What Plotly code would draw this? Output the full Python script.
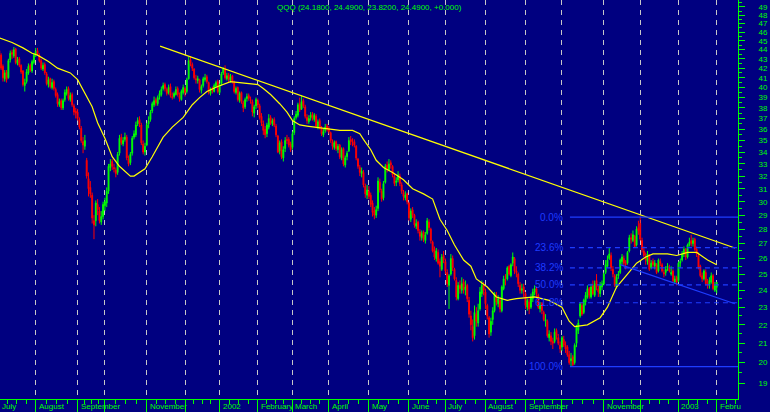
import math
import plotly.graph_objects as go

# ---------------- data (trading-day index 0 = first bar, 2 Jul 2001) ----------------
month_start_idx = [0, 21, 44, 59, 82, 103, 122, 143, 162, 182, 204, 226, 246, 268, 290, 310, 333, 353, 374, 395]
month_labels = ["July", "August", "September", "", "November", "", "2002", "February", "March", "April",
                "May", "June", "July", "August", "September", "", "November", "", "2003", "Febru"]

opens = [
    45.2, 43.9, 43.4, 42.2, 40.9, 41.6, 41.0, 42.9, 43.7, 43.3, 44.1, 42.5, 43.0, 42.3, 41.7, 40.2, 40.6, 41.5, 42.3, 41.7, 42.6,
    43.5, 43.9, 43.4, 42.8, 41.9, 42.4, 41.4, 40.3, 40.9, 40.0, 40.6, 39.8, 39.3, 38.3, 38.7, 38.0, 38.8, 39.4, 39.9, 38.8, 39.3, 38.2, 37.7,
    37.6, 36.9, 36.1, 34.9, 34.5, 33.3, 31.8, 31.1, 30.5, 28.6, 28.6, 29.8, 29.3, 28.5, 28.9,
    29.7, 29.9, 30.8, 32.7, 33.2, 32.7, 32.5, 32.3, 33.9, 35.3, 34.7, 35.1, 35.3, 33.4, 33.1, 33.9, 35.3, 35.5, 36.5, 36.9, 36.4, 34.7, 34.0,
    34.6, 36.5, 36.9, 37.7, 38.3, 38.8, 38.4, 39.1, 39.3, 39.9, 40.3, 39.8, 39.5, 40.1, 39.1, 39.1, 39.3, 39.9, 39.2, 38.8, 39.5,
    39.9, 39.6, 40.9, 42.9, 42.4, 41.9, 40.9, 40.7, 40.8, 39.7, 40.2, 40.8, 41.1, 40.5, 39.4, 39.9, 39.6, 40.1, 40.6,
    39.5, 40.4, 41.5, 41.9, 40.9, 41.3, 40.7, 41.2, 40.5, 39.5, 40.0, 38.7, 39.5, 38.5, 38.1, 38.9, 39.2, 38.8, 38.6, 37.5, 38.2,
    38.7, 38.2, 37.2, 36.5, 36.0, 35.6, 36.2, 37.1, 36.5, 36.9, 36.3, 35.4, 34.1, 34.9, 33.5, 34.3, 35.1, 35.1, 34.7,
    34.4, 35.7, 37.1, 37.3, 38.4, 37.9, 38.7, 38.1, 37.1, 36.7, 37.1, 37.4, 36.9, 37.2, 36.2, 36.8, 36.1, 35.5, 35.9, 36.3,
    36.1, 35.7, 34.9, 34.4, 34.9, 34.2, 34.6, 33.5, 34.3, 32.9, 33.6, 34.1, 35.1, 34.8, 34.9, 34.5, 33.4, 32.7, 32.2, 32.3, 31.2, 30.5,
    30.8, 30.5, 29.9, 29.3, 29.0, 29.5, 31.5, 30.8, 30.3, 31.5, 32.9, 32.5, 33.1, 32.8, 32.0, 31.5, 31.7, 32.0, 31.3, 30.7, 30.3, 30.6,
    29.9, 28.7, 29.4, 29.0, 28.2, 28.5, 27.8, 27.4, 27.8, 27.2, 27.7, 28.5, 28.0, 27.1, 26.6, 26.0, 26.4, 25.8, 25.3, 26.2,
    25.8, 25.1, 24.3, 25.0, 26.0, 25.3, 24.6, 23.5, 24.3, 24.0, 24.5, 24.0, 24.3, 23.4, 22.5, 21.9, 21.4, 22.6, 22.1, 22.9, 23.8, 24.3,
    23.9, 23.1, 22.4, 21.6, 22.3, 22.8, 23.7, 23.2, 23.4, 22.8, 24.1, 24.6, 24.7, 25.5, 24.9, 25.7, 26.0, 25.2, 25.0, 24.3, 24.0, 24.2,
    23.8, 23.0, 23.3, 23.0, 23.5, 23.9, 24.1, 23.7, 22.9, 23.2, 22.7, 22.2, 22.2, 21.3, 21.4, 21.1, 21.1, 21.7, 21.3, 20.9,
    20.8, 21.2, 20.9, 20.8, 20.4, 20.1, 20.3, 20.0, 21.0, 21.7, 22.5, 23.1, 22.7, 23.3, 23.6, 24.1, 23.6, 24.3, 23.7, 24.6, 24.1, 23.8, 24.2,
    24.4, 25.1, 25.5, 26.0, 26.2, 25.3, 24.9, 24.2, 24.9, 25.1, 25.8, 26.0, 25.7, 25.7, 26.5, 27.4, 27.2, 27.5, 26.9, 28.1,
    28.4, 27.2, 26.5, 26.1, 25.8, 26.2, 25.4, 25.8, 25.5, 25.6, 25.2, 25.8, 25.6, 25.1, 25.1, 25.4, 25.4, 25.0, 25.2, 24.5, 24.8,
    24.6, 25.7, 25.9, 26.3, 26.6, 26.1, 26.9, 27.2, 27.0, 27.3, 26.6, 26.2, 25.5, 24.9, 24.7, 25.1, 24.4, 24.3, 24.5, 24.9, 24.0,
    24.18,
]
highs = [
    45.8, 44.3, 43.6, 42.4, 41.8, 41.8, 43.0, 43.9, 44.0, 44.3, 44.2, 43.2, 43.2, 42.4, 41.8, 40.9, 41.9, 42.5, 42.5, 42.9, 43.6,
    44.2, 44.2, 43.6, 43.0, 42.6, 42.6, 41.6, 41.1, 41.0, 40.9, 40.8, 40.0, 39.5, 38.9, 38.9, 38.9, 39.8, 40.1, 40.1, 39.5, 39.5, 38.4, 38.0,
    37.9, 37.1, 36.3, 35.3, 35.5, 33.5, 32.3, 31.6, 30.7, 29.0, 30.1, 30.2, 29.6, 29.3, 30.0,
    30.3, 31.1, 33.0, 33.4, 33.4, 33.0, 32.7, 34.0, 35.5, 35.6, 35.3, 35.7, 35.5, 33.7, 34.0, 35.4, 35.9, 36.7, 37.1, 37.2, 36.6, 35.0, 34.8,
    36.6, 37.2, 37.8, 38.6, 39.1, 39.0, 39.2, 39.7, 40.1, 40.5, 40.5, 40.0, 40.3, 40.4, 39.5, 39.6, 40.1, 40.1, 39.5, 39.8, 40.3,
    40.1, 41.0, 43.2, 43.3, 42.6, 42.0, 41.3, 41.2, 40.9, 40.3, 41.1, 41.4, 41.3, 40.6, 40.0, 40.1, 40.4, 40.7, 40.8,
    40.4, 41.6, 42.1, 42.3, 41.5, 41.5, 41.4, 41.3, 40.7, 40.1, 40.1, 39.6, 39.6, 38.7, 39.0, 39.4, 39.4, 39.1, 38.8, 38.3, 39.0,
    38.9, 38.4, 37.5, 36.8, 36.3, 36.6, 37.4, 37.3, 37.0, 37.1, 36.5, 35.5, 35.0, 35.1, 34.5, 35.3, 35.5, 35.3, 34.9,
    35.8, 37.2, 37.7, 38.5, 39.0, 39.2, 38.9, 38.3, 37.4, 37.3, 37.6, 37.6, 37.5, 37.4, 36.9, 37.0, 36.3, 36.1, 36.5, 36.5,
    36.3, 35.8, 35.1, 35.0, 35.0, 34.7, 34.7, 34.4, 34.4, 33.7, 34.1, 35.3, 35.4, 35.2, 35.1, 34.6, 33.5, 32.9, 32.7, 32.5, 31.4, 31.3,
    31.2, 30.7, 30.1, 29.6, 29.7, 31.9, 31.8, 31.0, 31.6, 33.0, 33.2, 33.4, 33.3, 32.9, 32.2, 31.9, 32.4, 32.2, 31.5, 30.9, 30.8, 30.7,
    30.0, 29.5, 29.6, 29.1, 28.7, 28.6, 28.0, 27.9, 27.9, 27.8, 28.8, 28.7, 28.1, 27.2, 26.8, 26.7, 26.6, 26.0, 26.3, 26.5,
    26.0, 25.3, 25.0, 26.3, 26.2, 25.4, 24.8, 24.5, 24.6, 24.8, 24.7, 24.6, 24.4, 23.6, 22.8, 22.3, 23.1, 23.0, 23.2, 24.2, 24.6, 24.5,
    24.1, 23.2, 22.5, 22.4, 23.0, 23.9, 23.9, 23.7, 23.6, 24.3, 24.9, 25.0, 25.5, 25.6, 25.7, 26.4, 26.1, 25.5, 25.1, 24.5, 24.4, 24.4,
    23.9, 23.5, 23.5, 23.8, 24.1, 24.3, 24.2, 23.8, 23.3, 23.3, 22.8, 22.6, 22.3, 21.7, 21.6, 21.3, 21.8, 21.8, 21.5, 21.1,
    21.4, 21.4, 21.1, 20.9, 20.6, 20.5, 20.4, 21.0, 22.0, 22.3, 23.3, 23.3, 23.5, 23.9, 24.3, 24.2, 24.4, 24.6, 24.6, 25.0, 24.3, 24.5, 24.6,
    25.1, 25.9, 26.2, 26.7, 26.4, 25.5, 25.0, 25.0, 25.2, 26.0, 26.3, 26.2, 25.9, 26.5, 27.6, 27.7, 27.9, 27.6, 28.2, 28.6,
    28.9, 27.4, 26.8, 26.4, 26.5, 26.3, 25.9, 26.0, 25.9, 25.7, 26.0, 26.0, 25.7, 25.3, 25.5, 25.7, 25.6, 25.5, 25.3, 24.9, 24.9,
    25.8, 26.0, 26.5, 26.8, 26.7, 27.0, 27.4, 27.6, 27.4, 27.4, 26.8, 26.4, 25.6, 25.1, 25.3, 25.3, 24.7, 24.8, 25.1, 25.0, 24.5,
    24.49,
]
lows = [
    43.5, 43.0, 41.8, 40.6, 40.6, 40.5, 40.9, 42.6, 43.0, 43.1, 42.4, 42.3, 42.1, 41.4, 40.1, 39.6, 40.4, 41.3, 41.6, 41.5, 42.4,
    43.2, 43.3, 42.6, 41.8, 41.7, 41.3, 40.2, 40.0, 39.9, 39.8, 39.7, 39.0, 38.1, 38.1, 37.8, 37.8, 38.6, 39.2, 38.7, 38.6, 38.1, 37.3, 37.0,
    36.8, 36.0, 34.8, 33.9, 34.2, 31.8, 30.4, 30.3, 28.4, 27.3, 28.2, 29.0, 28.4, 28.3, 28.7,
    29.3, 29.6, 30.6, 32.4, 32.5, 32.3, 31.9, 32.1, 33.7, 34.6, 34.5, 34.9, 33.3, 32.8, 32.9, 33.7, 35.1, 35.3, 36.3, 36.2, 34.6, 33.8, 33.7,
    34.5, 36.1, 36.7, 37.5, 38.1, 38.2, 38.2, 38.8, 39.1, 39.7, 39.6, 39.2, 39.3, 39.0, 38.8, 38.9, 39.2, 39.1, 38.6, 38.7, 39.3,
    39.1, 39.4, 40.8, 42.2, 41.7, 40.8, 40.4, 40.4, 39.5, 39.4, 40.0, 40.6, 40.4, 39.3, 39.2, 39.4, 39.5, 40.0, 39.4,
    39.3, 40.2, 41.3, 40.8, 40.7, 40.5, 40.5, 40.4, 39.4, 39.3, 38.6, 38.5, 38.4, 37.6, 37.9, 38.6, 38.7, 38.4, 37.2, 37.1, 37.9,
    38.0, 36.9, 36.3, 35.5, 35.2, 35.3, 36.0, 36.4, 36.3, 36.2, 35.3, 33.9, 33.8, 33.4, 33.2, 34.0, 34.7, 34.4, 34.0,
    34.2, 35.5, 36.9, 37.1, 37.6, 37.8, 38.0, 37.0, 36.5, 36.5, 36.8, 36.8, 36.7, 36.1, 36.0, 36.0, 35.4, 35.3, 35.7, 35.8,
    35.6, 34.8, 34.2, 34.2, 34.1, 33.9, 33.4, 33.3, 32.8, 32.7, 33.3, 34.0, 34.6, 34.5, 34.4, 33.3, 32.6, 32.0, 31.9, 31.1, 30.3, 30.2,
    30.2, 29.6, 28.9, 28.7, 28.8, 29.3, 30.7, 30.0, 30.1, 31.4, 32.3, 32.4, 32.6, 31.9, 31.2, 31.2, 31.5, 31.2, 30.6, 30.1, 30.1, 29.8,
    28.6, 28.5, 28.8, 28.1, 28.0, 27.7, 27.2, 27.2, 27.1, 27.0, 27.6, 27.9, 27.0, 26.4, 25.9, 25.8, 25.6, 24.8, 25.2, 25.7,
    25.0, 24.2, 22.9, 24.9, 25.2, 24.6, 23.4, 23.4, 23.8, 23.8, 23.8, 23.7, 23.3, 22.4, 21.7, 21.1, 21.2, 21.9, 21.9, 22.8, 23.6, 23.7,
    22.9, 22.3, 21.3, 21.4, 22.0, 22.7, 23.1, 23.0, 22.7, 22.7, 24.0, 24.3, 24.6, 24.9, 24.8, 25.5, 25.0, 24.8, 24.2, 23.8, 23.8, 23.6,
    22.9, 22.8, 22.6, 22.9, 23.3, 23.7, 23.6, 22.9, 22.7, 22.6, 22.2, 21.9, 21.3, 21.1, 20.9, 20.7, 21.0, 21.2, 20.9, 20.5,
    20.6, 20.8, 20.5, 20.3, 19.9, 19.8, 19.8, 19.9, 20.8, 21.5, 22.4, 22.5, 22.6, 23.1, 23.5, 23.5, 23.5, 23.7, 23.6, 24.0, 23.6, 23.6, 24.0,
    24.3, 25.0, 25.4, 25.9, 25.2, 24.8, 24.2, 24.1, 24.7, 25.0, 25.6, 25.5, 25.3, 25.6, 26.4, 27.0, 27.1, 26.7, 26.8, 27.6,
    27.2, 26.4, 26.1, 25.6, 25.6, 25.2, 25.3, 25.4, 25.3, 25.0, 25.1, 25.5, 25.1, 24.8, 24.9, 25.2, 25.1, 24.9, 24.5, 24.4, 24.3,
    24.5, 25.4, 25.8, 26.1, 25.9, 26.0, 26.8, 26.8, 26.8, 26.5, 26.1, 25.3, 24.8, 24.5, 24.6, 24.3, 24.1, 24.1, 24.4, 24.0, 23.9,
    23.82,
]
closes = [
    43.8, 43.3, 42.0, 41.0, 41.5, 40.8, 42.8, 43.6, 43.5, 44.0, 42.6, 42.9, 42.3, 41.6, 40.3, 40.5, 41.6, 42.2, 41.8, 42.7, 43.4,
    43.8, 43.5, 42.8, 42.0, 42.3, 41.5, 40.4, 40.8, 40.1, 40.5, 39.9, 39.2, 38.4, 38.6, 38.0, 38.7, 39.5, 39.8, 38.9, 39.2, 38.3, 37.6, 37.5,
    37.0, 36.2, 35.0, 34.6, 35.0, 32.0, 31.0, 30.6, 28.8, 28.3, 29.9, 29.4, 28.6, 28.9, 29.8,
    30.0, 30.8, 32.8, 33.0, 32.8, 32.6, 32.2, 33.8, 35.2, 34.8, 35.0, 35.3, 33.5, 33.0, 33.8, 35.2, 35.6, 36.4, 36.8, 36.5, 34.8, 34.0, 34.5,
    36.4, 36.8, 37.6, 38.4, 38.7, 38.5, 39.0, 39.4, 39.8, 40.2, 39.9, 39.4, 40.0, 39.2, 39.0, 39.4, 39.8, 39.3, 38.9, 39.6, 40.0,
    39.5, 40.8, 42.8, 42.5, 42.0, 41.0, 40.8, 40.9, 39.8, 40.1, 40.9, 41.0, 40.6, 39.5, 39.8, 39.7, 40.2, 40.5, 39.6,
    40.3, 41.4, 41.9, 41.0, 41.2, 40.8, 41.1, 40.6, 39.6, 39.9, 38.8, 39.4, 38.6, 38.0, 38.8, 39.1, 38.9, 38.7, 37.6, 38.1, 38.8,
    38.3, 37.1, 36.6, 35.9, 35.5, 36.4, 37.0, 36.6, 36.8, 36.4, 35.5, 34.0, 34.8, 33.6, 34.2, 35.0, 35.0, 34.6, 34.2,
    35.6, 37.0, 37.4, 38.3, 37.8, 38.6, 38.2, 37.2, 36.8, 37.0, 37.3, 37.0, 37.3, 36.3, 36.7, 36.2, 35.6, 35.8, 36.2, 36.0,
    35.8, 35.0, 34.5, 34.8, 34.3, 34.5, 33.6, 34.2, 33.0, 33.5, 33.9, 35.0, 34.9, 34.8, 34.6, 33.5, 32.8, 32.3, 32.4, 31.3, 30.6, 30.9,
    30.4, 29.8, 29.2, 29.0, 29.4, 31.6, 30.9, 30.2, 31.4, 32.8, 32.6, 33.0, 32.9, 32.1, 31.4, 31.6, 32.1, 31.4, 30.8, 30.4, 30.5, 30.0,
    28.8, 29.3, 29.0, 28.3, 28.4, 27.9, 27.5, 27.7, 27.3, 27.6, 28.6, 28.1, 27.2, 26.5, 26.1, 26.5, 25.7, 25.5, 26.1, 25.9,
    25.2, 24.4, 24.9, 26.0, 25.4, 24.7, 23.6, 24.3, 24.1, 24.4, 24.1, 24.2, 23.5, 22.6, 22.0, 21.3, 22.7, 22.2, 22.8, 23.9, 24.3, 24.0,
    23.2, 22.5, 21.5, 22.2, 22.8, 23.8, 23.3, 23.5, 22.9, 24.2, 24.7, 24.6, 25.4, 25.0, 25.6, 26.1, 25.2, 25.1, 24.4, 24.0, 24.1, 23.9,
    23.1, 23.4, 22.9, 23.6, 23.9, 24.1, 23.8, 23.0, 23.1, 22.8, 22.3, 22.3, 21.4, 21.5, 21.1, 21.0, 21.6, 21.4, 21.0, 20.7,
    21.3, 20.9, 20.7, 20.4, 20.0, 20.2, 19.9, 20.9, 21.9, 22.1, 23.2, 22.6, 23.4, 23.7, 24.1, 23.7, 24.2, 23.8, 24.4, 24.2, 23.9, 24.3, 24.4,
    25.0, 25.6, 25.9, 26.3, 25.4, 25.0, 24.3, 24.8, 25.0, 25.9, 26.1, 25.7, 25.6, 26.4, 27.4, 27.3, 27.6, 26.8, 28.0, 27.9,
    27.3, 26.6, 26.2, 25.9, 26.3, 25.3, 25.7, 25.6, 25.7, 25.1, 25.9, 25.7, 25.2, 25.0, 25.3, 25.5, 25.2, 25.1, 24.6, 24.7, 24.5,
    25.7, 25.8, 26.3, 26.6, 26.1, 26.9, 27.1, 27.0, 27.2, 26.6, 26.3, 25.4, 24.9, 24.7, 25.2, 24.4, 24.3, 24.6, 24.9, 24.1, 24.3,
    24.49,
]

# moving average (yellow)
ma_idx = [0, 8, 14, 19, 22, 28, 33, 40, 44, 48, 52, 55, 59, 63, 67, 73, 75, 81, 85, 91, 96, 102, 107, 111, 115, 121,
          128, 133, 137, 143, 146, 150, 155, 159, 162, 166, 170, 175, 181, 188, 195, 199, 201, 205, 208, 212, 217, 223,
          228, 234, 239, 241, 243, 247, 251, 256, 260, 263, 269, 274, 280, 285, 292, 295, 303, 310, 314, 317, 324, 331,
          335, 340, 346, 351, 356, 360, 368, 373, 379, 384, 390, 395]
ma_val = [45.4, 44.8, 44.2, 43.6, 43.4, 42.7, 42.0, 41.5, 40.8, 39.5, 38.1, 36.6, 35.2, 33.6, 32.8, 32.0, 32.0, 32.6, 33.6,
          35.3, 36.2, 37.1, 38.3, 39.0, 39.6, 40.1, 40.6, 40.5, 40.4, 40.3, 39.9, 39.3, 38.4, 37.6, 36.8, 36.4, 36.3, 36.2,
          36.1, 35.9, 35.9, 35.6, 35.1, 34.2, 33.3, 32.7, 32.3, 31.7, 31.0, 30.6, 30.2, 29.5, 28.7, 27.9, 26.9, 25.9, 25.5,
          24.7, 24.2, 23.6, 23.4, 23.5, 23.6, 23.6, 23.4, 23.0, 22.2, 21.9, 22.0, 22.4, 23.0, 24.2, 25.0, 25.7, 26.1, 26.3,
          26.3, 26.2, 26.4, 26.4, 25.9, 25.6]

# trend lines
resist_idx = [89.3, 405.0]
resist_val = [44.4, 26.7]
fan_idx = [342.0, 405.0]
fan_val = [25.6, 23.2]

# Fibonacci retracement
fib_start_idx = 314.4
fib_levels = [28.86, 26.72, 25.40, 24.33, 23.26, 19.80]
fib_labels = ["0.0%", "23.6%", "38.2%", "50.0%", "61.8%", "100.0%"]

title_text = "QQQ (24.1800, 24.4900, 23.8200, 24.4900, +0.000)"
y_ticks = list(range(19, 50))

assert len(opens) == len(highs) == len(lows) == len(closes) == 396, (len(opens), len(highs), len(lows), len(closes))

# ---------------- styling ----------------
BG = "#000080"
GREEN = "#00FF00"
RED = "#FF0000"
YELLOW = "#FFFF00"
BLUE = "#1E3CFF"
FONT = "Liberation Sans"

X_RANGE = [1.39, 406.7]
Y_RANGE = [1.2613, 1.6978]

x = list(range(len(closes)))

fig = go.Figure()
fig.add_trace(go.Candlestick(
    x=x, open=opens, high=highs, low=lows, close=closes,
    increasing=dict(line=dict(color=GREEN, width=1), fillcolor=GREEN),
    decreasing=dict(line=dict(color=RED, width=1), fillcolor=RED),
    whiskerwidth=0, hoverinfo="skip",
))

fig.add_trace(go.Scatter(x=ma_idx, y=ma_val, mode="lines",
                         line=dict(color=YELLOW, width=1.2), hoverinfo="skip"))
fig.add_trace(go.Scatter(x=resist_idx, y=resist_val, mode="lines",
                         line=dict(color=YELLOW, width=1.2), hoverinfo="skip"))
fig.add_trace(go.Scatter(x=fan_idx, y=fan_val, mode="lines",
                         line=dict(color=BLUE, width=1.2), hoverinfo="skip"))

for i, (lvl, lab) in enumerate(zip(fib_levels, fib_labels)):
    solid = (i == 0 or i == len(fib_levels) - 1)
    fig.add_trace(go.Scatter(x=[fib_start_idx, X_RANGE[1]], y=[lvl, lvl], mode="lines",
                             line=dict(color=BLUE, width=1.2, dash=None if solid else "5px,4px"),
                             hoverinfo="skip"))
    fig.add_annotation(x=fib_start_idx, y=math.log10(lvl), xref="x", yref="y",
                       text=lab, showarrow=False, xanchor="right", yanchor="middle", xshift=-5,
                       font=dict(family=FONT, size=10, color=BLUE))

# month labels along the bottom
for idx, lab in zip(month_start_idx, month_labels):
    if not lab:
        continue
    xpos = max(idx, X_RANGE[0])
    shift = 1 if idx >= X_RANGE[0] else 0
    fig.add_annotation(x=xpos, y=0, xref="x", yref="paper", text=lab, showarrow=False,
                       xanchor="left", yanchor="top", xshift=shift, yshift=-1,
                       font=dict(family=FONT, size=8, color=GREEN))

fig.add_annotation(x=0.5, y=1, xref="paper", yref="paper", text=title_text, showarrow=False,
                   xanchor="center", yanchor="top", yshift=-1,
                   font=dict(family=FONT, size=8, color=GREEN))

# minor ticks: quarter-month marks
bounds = month_start_idx + [month_start_idx[-1] + 21]
minor_x = []
for a, b in zip(bounds[:-1], bounds[1:]):
    for k in (1, 2, 3):
        minor_x.append(a + (b - a) * k / 4.0)

fig.update_layout(
    width=770, height=412,
    margin=dict(l=0, r=32, t=0, b=13),
    paper_bgcolor=BG, plot_bgcolor=BG,
    showlegend=False,
    font=dict(family=FONT, color=GREEN),
    xaxis=dict(
        range=X_RANGE, autorange=False, automargin=False,
        rangeslider=dict(visible=False),
        tickmode="array", tickvals=month_start_idx[1:], showticklabels=False,
        ticks="outside", ticklen=13, tickwidth=1, tickcolor=GREEN,
        showgrid=True, gridcolor="#C8C8C8", gridwidth=1, griddash="5px,5px",
        showline=True, linecolor=GREEN, linewidth=1, zeroline=False,
        minor=dict(tickvals=minor_x, ticks="outside", ticklen=4, tickcolor=GREEN, showgrid=False),
    ),
    yaxis=dict(
        type="log", range=Y_RANGE, autorange=False, automargin=False, side="right",
        tickmode="array", tickvals=y_ticks, ticktext=[str(v) for v in y_ticks],
        ticks="outside", ticklen=6, tickwidth=1, tickcolor=GREEN,
        tickfont=dict(family=FONT, size=8, color=GREEN), ticklabelstandoff=12,
        showgrid=False, zeroline=False,
        showline=True, linecolor=GREEN, linewidth=1,
        minor=dict(tickvals=[v + 0.5 for v in y_ticks], ticks="outside", ticklen=3, tickcolor=GREEN, showgrid=False),
    ),
)

fig.write_html("out.html",
               config={"displayModeBar": False, "staticPlot": True},
               post_script="document.body.style.margin='0';document.body.style.overflow='hidden';"
                           "document.documentElement.style.background='" + BG + "';")
